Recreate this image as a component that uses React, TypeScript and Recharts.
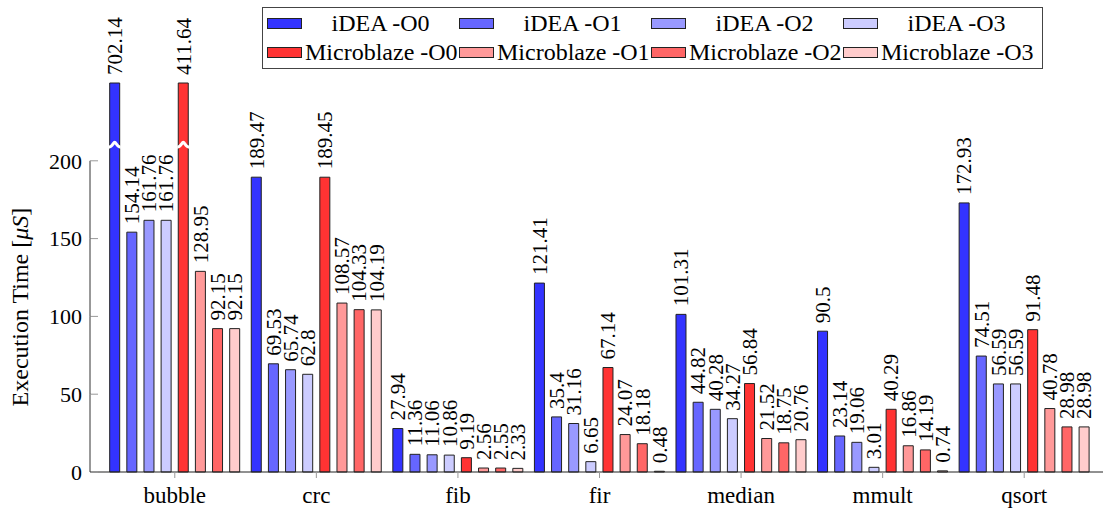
import React from 'react';
import { BarChart, Bar, XAxis, YAxis, LabelList, Rectangle } from 'recharts';

const CATEGORIES = ['bubble', 'crc', 'fib', 'fir', 'median', 'mmult', 'qsort'];

const IDEA_O0 = [702.14, 189.47, 27.94, 121.41, 101.31, 90.5, 172.93];
const IDEA_O1 = [154.14, 69.53, 11.36, 35.4, 44.82, 23.14, 74.51];
const IDEA_O2 = [161.76, 65.74, 11.06, 31.16, 40.28, 19.06, 56.59];
const IDEA_O3 = [161.76, 62.8, 10.86, 6.65, 34.27, 3.01, 56.59];
const MB_O0 = [411.64, 189.45, 9.19, 67.14, 56.84, 40.29, 91.48];
const MB_O1 = [128.95, 108.57, 2.56, 24.07, 21.52, 16.86, 40.78];
const MB_O2 = [92.15, 104.33, 2.55, 18.18, 18.75, 14.19, 28.98];
const MB_O3 = [92.15, 104.19, 2.33, 0.48, 20.76, 0.74, 28.98];

const Y_TICKS = [0, 50, 100, 150, 200];
const Y_MAX = 250; // bars above this are cut and marked with a break
const BREAK_AT = 210;
const LABEL_MID = 106;

const SERIES = [
  { key: 'ideaO0', name: 'iDEA -O0', color: '#3333ff', values: IDEA_O0 },
  { key: 'ideaO1', name: 'iDEA -O1', color: '#6666ff', values: IDEA_O1 },
  { key: 'ideaO2', name: 'iDEA -O2', color: '#9999ff', values: IDEA_O2 },
  { key: 'ideaO3', name: 'iDEA -O3', color: '#ccccff', values: IDEA_O3 },
  { key: 'mbO0', name: 'Microblaze -O0', color: '#ff3333', values: MB_O0 },
  { key: 'mbO1', name: 'Microblaze -O1', color: '#ff9999', values: MB_O1 },
  { key: 'mbO2', name: 'Microblaze -O2', color: '#ff6666', values: MB_O2 },
  { key: 'mbO3', name: 'Microblaze -O3', color: '#ffcccc', values: MB_O3 },
];

const rows = CATEGORIES.map((name, i) => {
  const row: Record<string, any> = { name };
  SERIES.forEach((s) => {
    row[s.key] = s.values[i];
  });
  return row;
});

const FONT = '"Liberation Serif", "Times New Roman", serif';
const W = 1103;
const H = 509;
const TOP = 83;
const X_AXIS_H = 37;
const PLOT_H = H - TOP - X_AXIS_H;

const YTick = (props: any) => {
  const { x, y, payload } = props;
  const v = payload.value;
  const step = (PLOT_H * 50) / Y_MAX;
  return (
    <g>
      {v > 0 && <line x1={x} x2={x} y1={y} y2={y + step} stroke="#333" strokeWidth={1} />}
      <line x1={x} x2={x + 8} y1={y} y2={y} stroke="#999" strokeWidth={1} />
      <text x={x - 8} y={y} dy="0.35em" textAnchor="end" fontFamily={FONT} fontSize={22} fill="#000">
        {v}
      </text>
    </g>
  );
};

const YTitle = (props: any) => {
  const vb = props.viewBox || { y: TOP, height: PLOT_H };
  const cy = vb.y + vb.height * (1 - LABEL_MID / Y_MAX);
  const cx = 28;
  return (
    <text x={cx} y={cy} transform={`rotate(-90 ${cx} ${cy})`} textAnchor="middle" fontFamily={FONT} fontSize={24} fill="#000">
      Execution Time [<tspan fontStyle="italic">μS</tspan>]
    </text>
  );
};

const ValueLabel = (props: any) => {
  const { x, y, width, value } = props;
  const cx = x + width / 2;
  const ty = y - 8;
  return (
    <text
      x={cx}
      y={ty}
      dy="0.35em"
      transform={`rotate(-90 ${cx} ${ty})`}
      textAnchor="start"
      fontFamily={FONT}
      fontSize={21}
      fill="#000"
    >
      {value}
    </text>
  );
};

// bar with a wavy white cut when the real value runs past the axis top
const BrokenBar = (props: any) => {
  const { x, y, width, height, raw } = props;
  const rect = <Rectangle {...props} />;
  if (!(raw > Y_MAX)) return rect;
  const yb = y + (height * (Y_MAX - BREAK_AT)) / Y_MAX;
  const d = `M${x - 1},${yb + 2} C${x + width * 0.3},${yb + 2} ${x + width * 0.35},${yb - 3} ${x + width / 2},${yb - 3} C${x + width * 0.65},${yb - 3} ${x + width * 0.7},${yb + 2} ${x + width + 1},${yb + 2}`;
  return (
    <g>
      {rect}
      <path d={d} fill="none" stroke="#fff" strokeWidth={3} />
    </g>
  );
};

const LegendBox = () => (
  <div
    style={{
      position: 'absolute',
      left: 262,
      top: 7,
      width: 775,
      height: 59,
      border: '1px solid #444',
      background: '#fff',
      fontFamily: FONT,
      fontSize: 24,
      display: 'grid',
      gridTemplateColumns: 'repeat(4, 192px)',
      gridTemplateRows: '29px 29px',
      padding: '1px 0 0 4px',
      boxSizing: 'content-box',
    }}
  >
    {SERIES.map((s) => {
      const isIdea = s.key.startsWith('idea');
      return (
        <div key={s.key} style={{ display: 'flex', alignItems: 'center', whiteSpace: 'nowrap' }}>
          <span
            style={{
              display: 'inline-block',
              width: 33,
              height: 9,
              background: s.color,
              border: '1px solid #222',
              flex: 'none',
            }}
          />
          <span style={{ flex: isIdea ? 1 : 'none', textAlign: isIdea ? 'center' : 'left', marginLeft: isIdea ? 0 : 3 }}>
            {s.name}
          </span>
        </div>
      );
    })}
  </div>
);

export default function App() {
  return (
    <div style={{ position: 'absolute', left: 0, top: 0, width: W, height: H, background: '#fff' }}>
      <BarChart
        width={W}
        height={H}
        data={rows}
        margin={{ top: TOP, right: 0, bottom: 0, left: 0 }}
        barCategoryGap={5.7}
        barGap={7.14}
      >
        <XAxis
          dataKey="name"
          height={X_AXIS_H}
          padding={{ left: 14, right: 8 }}
          axisLine={{ stroke: '#222' }}
          tickLine={{ stroke: '#999' }}
          tickSize={6}
          tickMargin={9}
          tick={{ fill: '#000', fontSize: 23, fontFamily: FONT }}
          interval={0}
        />
        <YAxis
          width={90}
          domain={[0, Y_MAX]}
          ticks={Y_TICKS}
          axisLine={false}
          tickLine={false}
          tickSize={0}
          tickMargin={0}
          tick={<YTick />}
          label={<YTitle />}
        />
        {SERIES.map((s) => (
          <Bar
            key={s.key}
            name={s.name}
            dataKey={(row: any) => Math.min(row[s.key], Y_MAX)}
            fill={s.color}
            stroke="#222"
            strokeWidth={1}
            isAnimationActive={false}
            shape={(p: any) => <BrokenBar {...p} raw={p.payload[s.key]} />}
          >
            <LabelList dataKey={s.key} content={<ValueLabel />} />
          </Bar>
        ))}
      </BarChart>
      <LegendBox />
    </div>
  );
}
